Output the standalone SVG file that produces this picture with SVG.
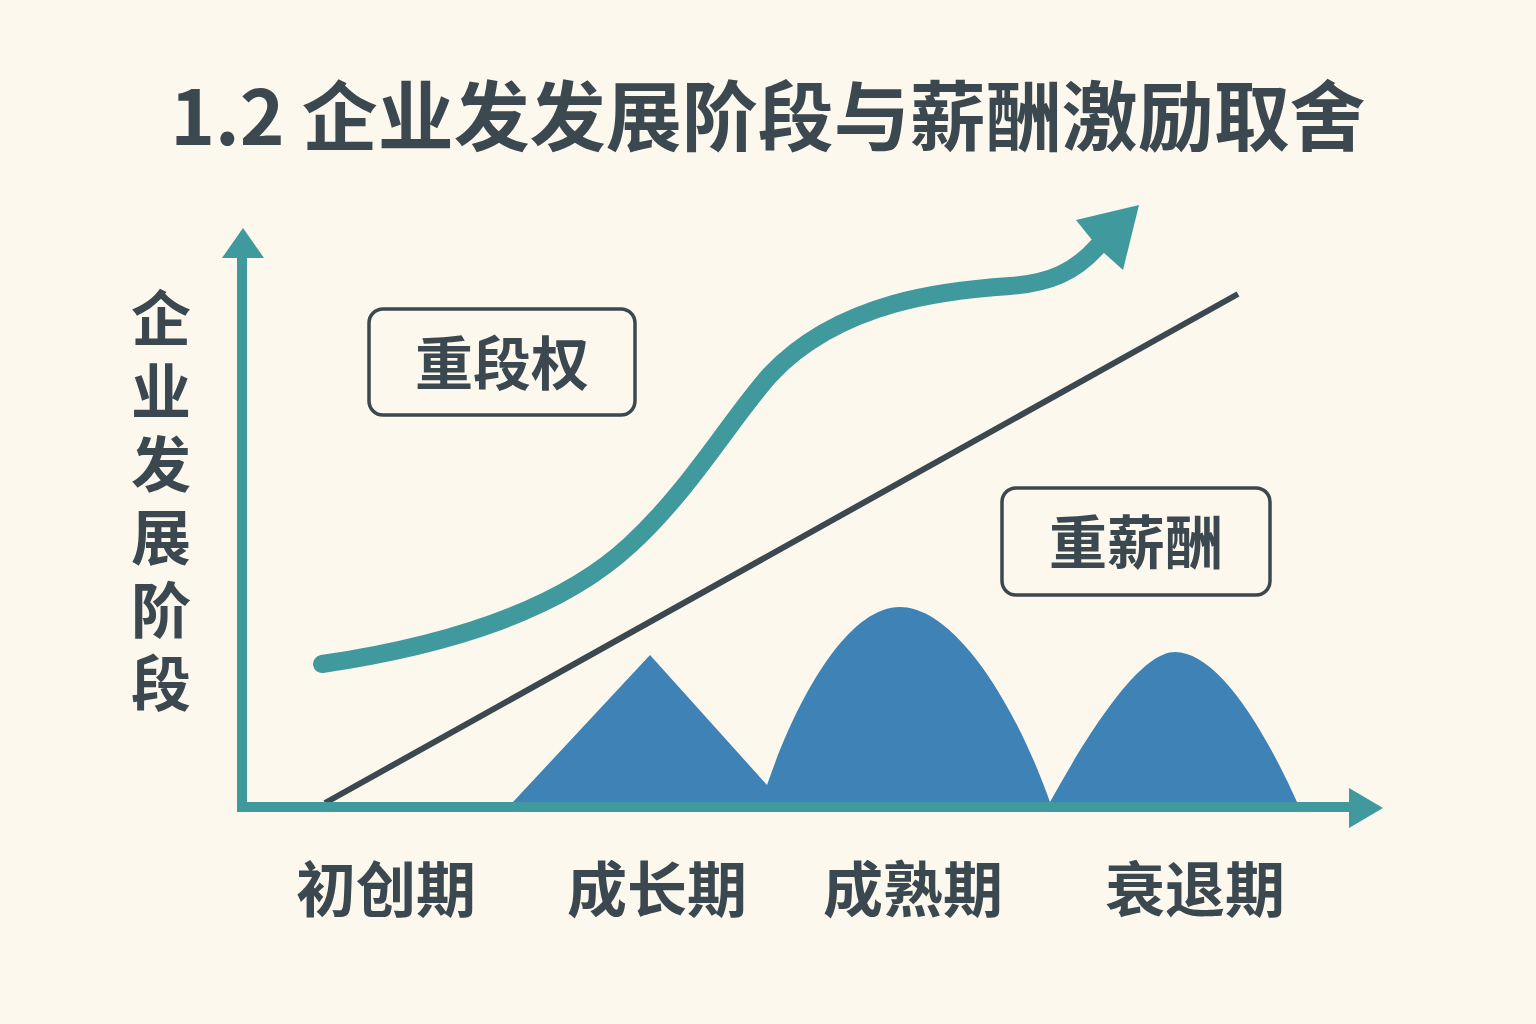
<svg xmlns="http://www.w3.org/2000/svg" width="1536" height="1024" viewBox="0 0 1536 1024">
<style>
.t{font-family:"Noto Sans CJK SC","Noto Sans",sans-serif;font-weight:bold;fill:#3B4850;text-anchor:middle}
.box{fill:none;stroke:#3B4850;stroke-width:3.5}
.teal{fill:#40999D}
</style>
<rect width="1536" height="1024" fill="#FCF8EE"/>
<text class="t" x="768" y="145" font-size="76">1.2 企业发发展阶段与薪酬激励取舍</text>
<g id="mountains" fill="#3F82B5">
<path d="M513,802 L650,655 L767,785 C800,690 850,607 900,607 C950,607 1010,690 1050,802 C1090,730 1140,652 1175,652 C1215,652 1260,720 1297,802 Z"/>
</g>
<g id="connectors">
<line x1="325" y1="803" x2="1238" y2="294" stroke="#3B4850" stroke-width="6"/>
<path d="M322,664 C450,645 560,610 630,545 C690,490 730,420 770,375 C840,300 950,290 1010,286 C1050,283 1075,272 1098,246" fill="none" stroke="#40999D" stroke-width="18" stroke-linecap="round"/>
<polygon class="teal" points="1076,220 1139,205 1123,270 1103,252 1092,240"/>
</g>
<g id="axes">
<line x1="242" y1="255" x2="242" y2="812" stroke="#40999D" stroke-width="10"/>
<polygon class="teal" points="243,228 222,258 264,258"/>
<line x1="237" y1="807" x2="1352" y2="807" stroke="#40999D" stroke-width="10"/>
<polygon class="teal" points="1383,808 1349,788 1349,828"/>
</g>
<g id="ylabel">
<text x="161" y="288" font-size="60" style="writing-mode:vertical-rl;text-anchor:start;letter-spacing:13px;font-family:'Noto Sans CJK SC','Noto Sans',sans-serif;font-weight:bold;fill:#3B4850">企业发展阶段</text>
</g>
<g id="node-equity">
<rect class="box" x="369" y="309" width="266" height="106" rx="14"/>
<text class="t" x="502" y="385" font-size="58">重段权</text>
</g>
<g id="node-salary">
<rect class="box" x="1002" y="488" width="268" height="107" rx="14"/>
<text class="t" x="1136" y="564" font-size="58">重薪酬</text>
</g>
<g id="stages">
<text class="t" x="386" y="912" font-size="60">初创期</text>
<text class="t" x="657" y="912" font-size="60">成长期</text>
<text class="t" x="913" y="912" font-size="60">成熟期</text>
<text class="t" x="1195" y="912" font-size="60">衰退期</text>
</g>
</svg>
